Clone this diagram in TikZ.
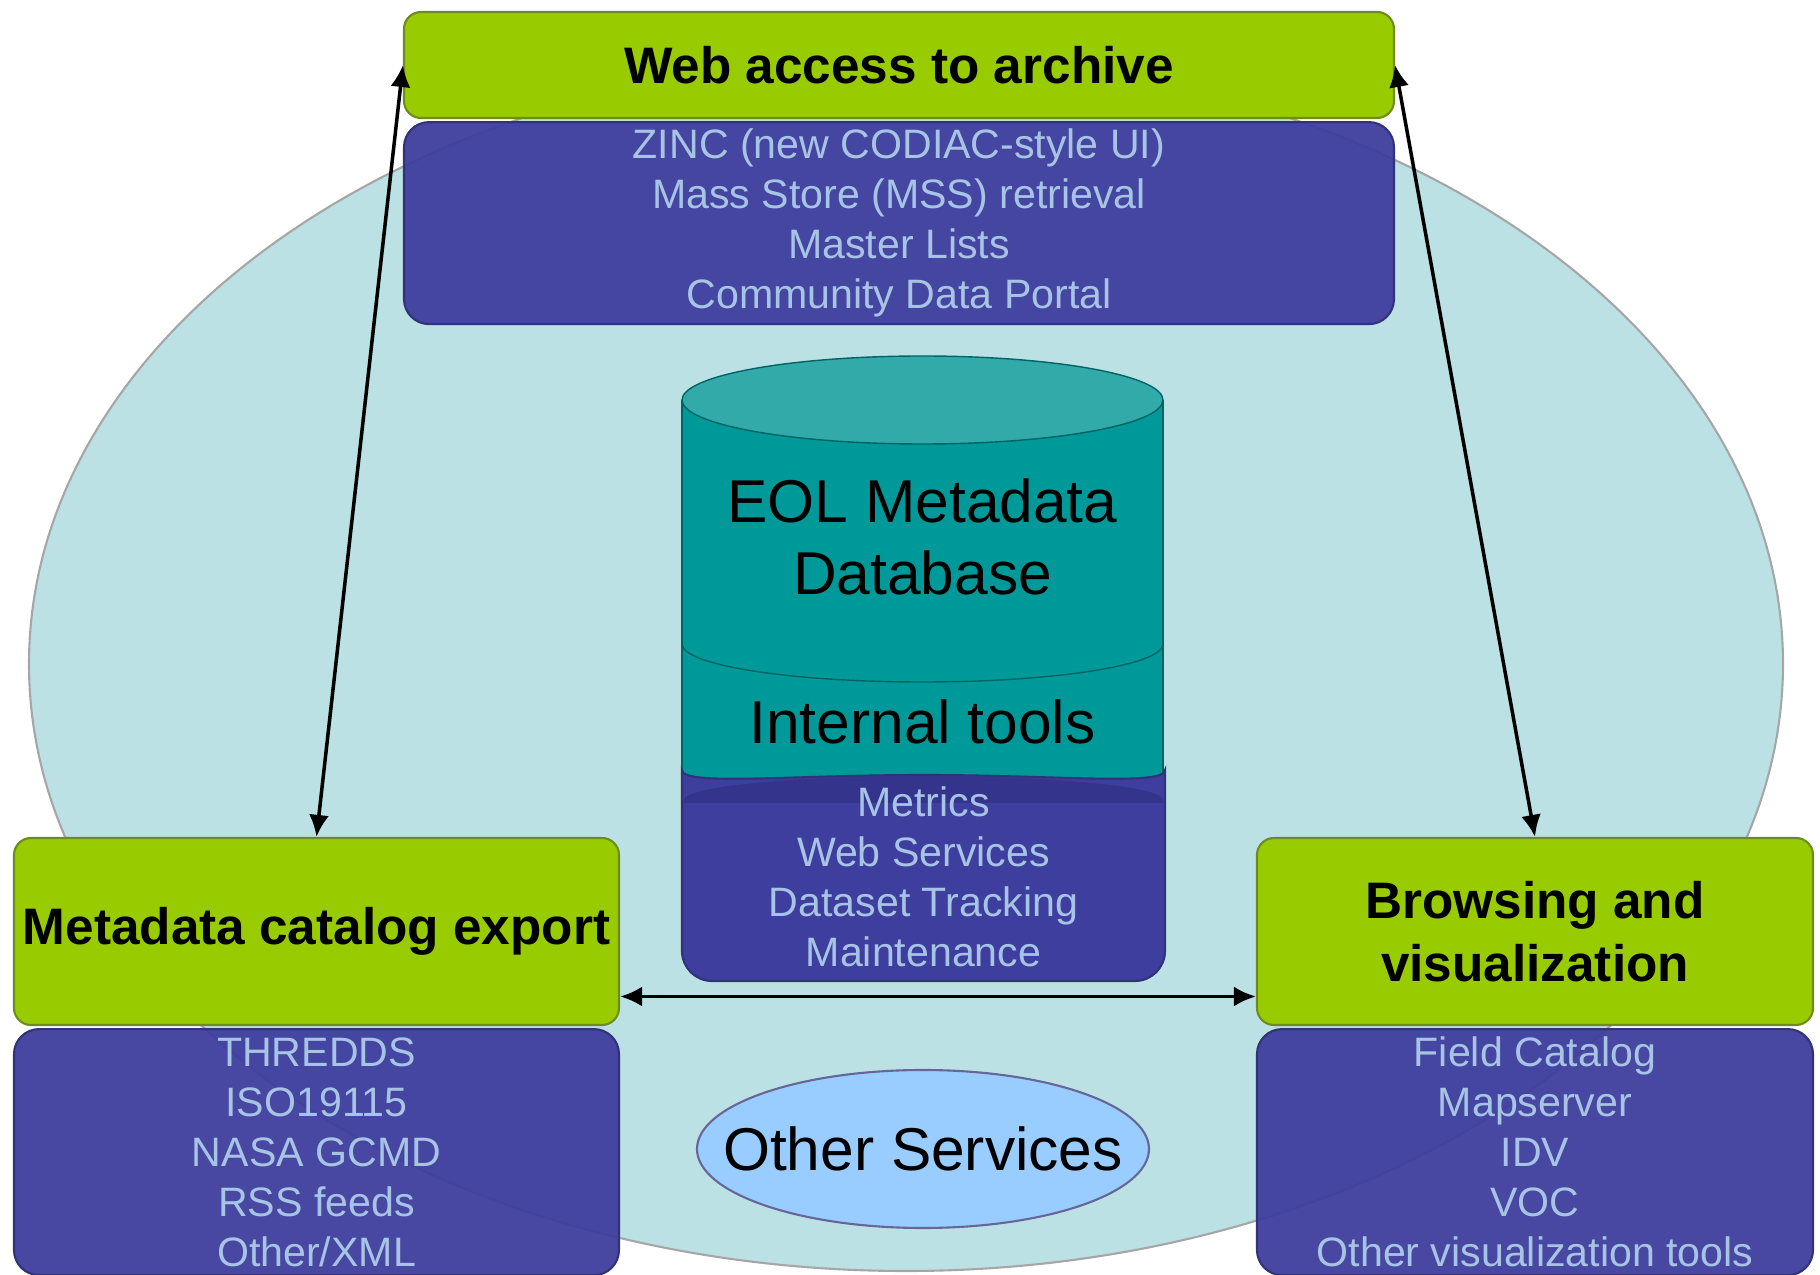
\documentclass[tikz,border=0pt]{standalone}
\usepackage{fontspec}
\setmainfont{Liberation Sans}
\usetikzlibrary{positioning,arrows.meta}
\definecolor{bgcyan}{RGB}{188,225,228}
\definecolor{boxgreen}{RGB}{153,204,0}
\definecolor{greenedge}{RGB}{110,140,30}
\definecolor{listpurple}{RGB}{62,62,158}
\definecolor{purpleedge}{RGB}{50,50,120}
\definecolor{purplecap}{RGB}{52,52,140}
\definecolor{listtext}{RGB}{168,196,228}
\definecolor{dbteal}{RGB}{0,153,153}
\definecolor{dbtop}{RGB}{51,170,170}
\definecolor{dbedge}{RGB}{0,100,100}
\definecolor{otherblue}{RGB}{153,204,255}
\tikzset{
  greenbox/.style={draw=greenedge, fill=boxgreen, rounded corners=0.17cm, line width=0.6pt, inner sep=0pt, align=center, font=\fontsize{14.6}{18}\selectfont\bfseries},
  listfont/.style={text=listtext, align=center, font=\fontsize{11.7}{14.2}\selectfont},
  listbox/.style={listfont, draw=purpleedge, fill=listpurple, fill opacity=0.95, text opacity=1, rounded corners=0.25cm, line width=0.6pt, inner sep=0pt},
  bigtext/.style={font=\fontsize{17.2}{20.4}\selectfont, align=center},
  link/.style={{Latex[length=2.2mm,width=2mm]}-{Latex[length=2.2mm,width=2mm]}, line width=1pt}
}
\begin{document}
\begin{tikzpicture}
  \useasboundingbox (0,0) rectangle (18.2,12.75);
  % background
  \filldraw[fill=bgcyan, draw=gray!70, line width=0.6pt] (9.06,6.11) ellipse (8.77 and 6.07);

  % web access
  \node[greenbox, minimum width=9.9cm, minimum height=1.06cm] (webbox) at (8.99,12.10) {Web access to archive};
  \node[listbox, minimum width=9.9cm, minimum height=2.02cm, below=0.02cm of webbox] (weblist)
    {ZINC (new CODIAC-style UI)\\Mass Store (MSS) retrieval\\Master Lists\\Community Data Portal};

  % catalog export
  \node[greenbox, minimum width=6.05cm, minimum height=1.87cm] (catbox) at (3.165,3.435) {Metadata catalog export};
  \node[listbox, minimum width=6.05cm, minimum height=2.46cm, below=0.02cm of catbox] (catlist)
    {THREDDS\\ISO19115\\NASA GCMD\\RSS feeds\\Other/XML};

  % browsing
  \node[greenbox, minimum width=5.56cm, minimum height=1.87cm] (browsebox) at (15.35,3.435) {Browsing and\\visualization};
  \node[listbox, minimum width=5.56cm, minimum height=2.46cm, below=0.02cm of browsebox] (browselist)
    {Field Catalog\\Mapserver\\IDV\\VOC\\Other visualization tools};

  % database
  \fill[dbteal] (6.82,4.80) rectangle (11.63,8.75);
  \draw[dbedge] (6.82,4.80) -- (6.82,8.75) (11.63,4.80) -- (11.63,8.75);
  \filldraw[fill=dbtop, draw=dbedge] (9.225,8.75) ellipse (2.405 and 0.44);
  \draw[dbedge] (6.82,6.31) arc[start angle=180, end angle=360, x radius=2.405, y radius=0.38];
  \node[bigtext] (dbname) at (9.225,7.38) {EOL Metadata\\Database};
  \node[bigtext] (dbtools) at (9.225,5.53) {Internal tools};
  \filldraw[draw=purpleedge, fill=listpurple, rounded corners=0.3cm, line width=0.6pt]
    (6.82,4.75) arc[start angle=180, end angle=0, x radius=2.415, y radius=0.25]
    -- (11.65,2.94) -- (6.82,2.94) -- cycle;
  \fill[purplecap] (6.84,4.72) -- (6.84,4.75) arc[start angle=180, end angle=0, x radius=2.395, y radius=0.24]
    -- (11.63,4.72) -- cycle;
  \node[listfont] (toollist) at (9.235,3.98) {Metrics\\Web Services\\Dataset Tracking\\Maintenance};

  % other services
  \filldraw[fill=otherblue, draw=gray!80!blue, line width=0.6pt] (9.23,1.26) ellipse (2.26 and 0.79);
  \node[bigtext] (other) at (9.23,1.26) {Other Services};

  % connectors
  \draw[link] (catbox.north) -- (webbox.west);
  \draw[link] (browsebox.north) -- (webbox.east);
  \draw[link] ([yshift=-0.65cm]catbox.east) -- ([yshift=-0.65cm]browsebox.west);
\end{tikzpicture}
\end{document}
